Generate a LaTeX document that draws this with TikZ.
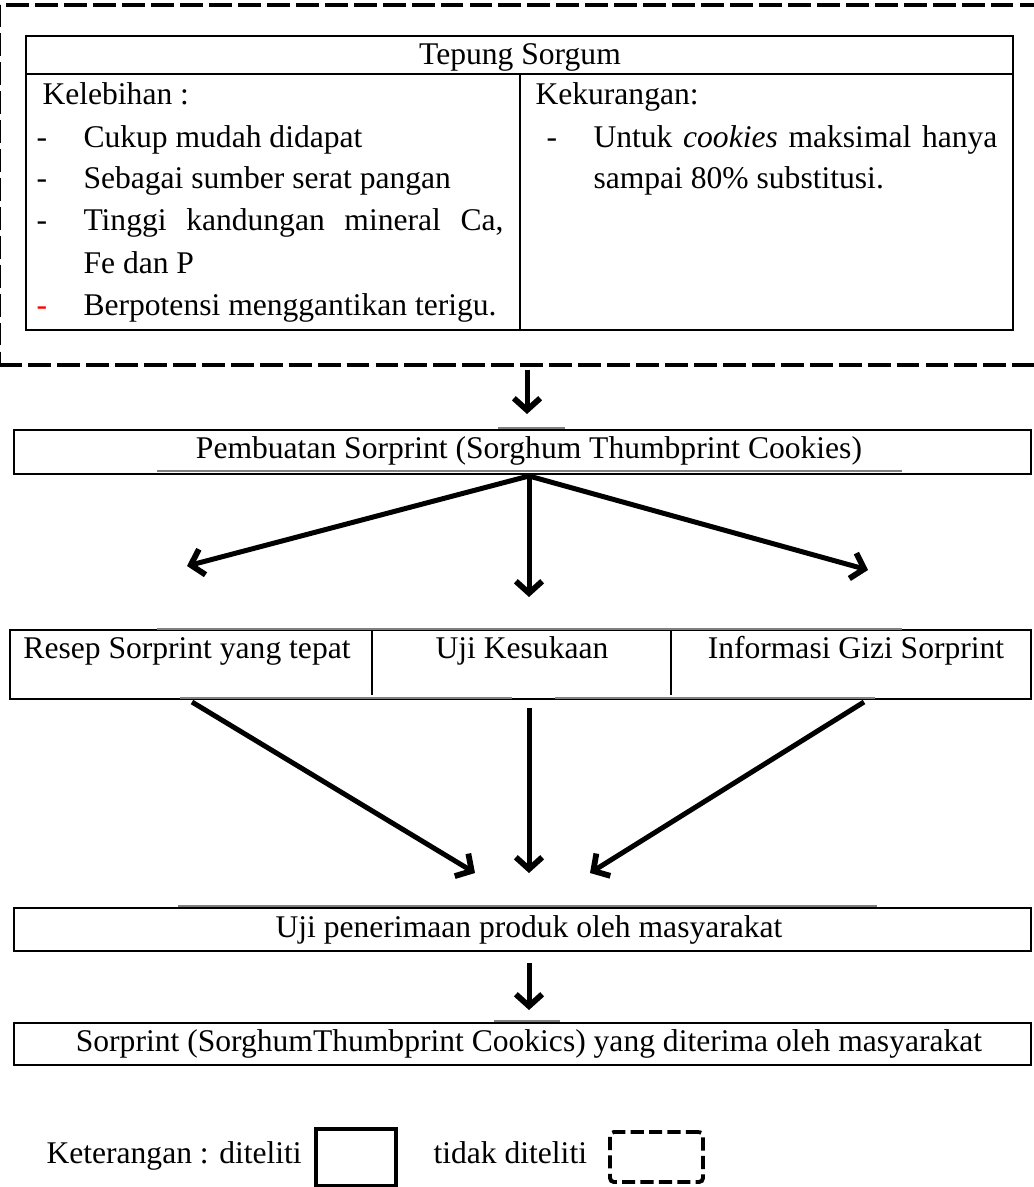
\documentclass[tikz,border=0pt]{standalone}
\usepackage{fontspec}
\setmainfont{Liberation Serif}
\usetikzlibrary{arrows.meta,fit}

\newcommand{\pxu}{0.38pt}

\tikzset{
  teks/.style={font=\fontsize{12}{14}\selectfont, inner sep=0pt, anchor=base},
  tekskiri/.style={teks, anchor=base west},
  kotak/.style={draw, line width=0.7pt, inner sep=0pt},
  putus/.style={draw, line width=1.7pt, dash pattern=on 8.7pt off 2.3pt},
  panah/.style={line width=1.9pt, -{Straight Barb[length=4.5pt,width=10pt,line width=2.2pt]}},
  sisa/.style={gray, line width=1pt}
}

\begin{document}
\begin{tikzpicture}[x=\pxu,y=-\pxu]
    \useasboundingbox (0,0) rectangle (1033,1187);

    % tepung sorgum (tidak diteliti)
    \node[putus, fit={(8,14) (1027,356)}] (luar) {};
    \node[kotak, fit={(26,36) (1013,330)}] (tabel) {};
    \draw[line width=0.7pt] (26,74) -- (1013,74);
    \draw[line width=0.7pt] (520,74) -- (520,330);
    \node[teks] (judul) at (520,65) {Tepung Sorgum};

    \node[tekskiri] (lebih) at (42,105) {Kelebihan :};
    \node[tekskiri] (d1) at (36,147) {-};
    \node[tekskiri] (d2) at (36,188) {-};
    \node[tekskiri] (d3) at (36,230) {-};
    \node[tekskiri, text=red] (d4) at (36,315) {-};
    \node[tekskiri] (lb1) at (83,147) {Cukup mudah didapat};
    \node[tekskiri] (lb2) at (83,188) {Sebagai sumber serat pangan};
    \node[tekskiri] (lb3) at (83,230) {\hbox to 159.6pt{Tinggi\hfill kandungan\hfill mineral\hfill Ca,}};
    \node[tekskiri] (lb4) at (83,273) {Fe dan P};
    \node[tekskiri] (lb5) at (83,315) {Berpotensi menggantikan terigu.};

    \node[tekskiri] (kurang) at (535,105) {Kekurangan:};
    \node[tekskiri] (d5) at (546,147) {-};
    \node[tekskiri] (kr1) at (593,147) {\hbox to 153.5pt{Untuk\hfill \textit{cookies}\hfill maksimal\hfill hanya}};
    \node[tekskiri] (kr2) at (593,188) {sampai 80\% substitusi.};

    % pembuatan
    \coordinate (a0) at (527,370);
    \coordinate (a1) at (527,414);
    \draw[panah] (a0) -- (a1);

    \draw[sisa] (498,428) -- (565,428);
    \node[kotak, fit={(14,430) (1031,474)}] (buat) {};
    \node[teks] (tbuat) at (529,458) {Pembuatan Sorprint (Sorghum Thumbprint Cookies)};
    \draw[sisa] (157,471) -- (902,471);

    \coordinate (pusat) at (529,476);
    \coordinate (ke1) at (187,566);
    \coordinate (ke2) at (529,597);
    \coordinate (ke3) at (868,570);
    \draw[panah] (pusat) -- (ke1);
    \draw[panah] (pusat) -- (ke2);
    \draw[panah] (pusat) -- (ke3);

    % tiga penelitian
    \node[kotak, fit={(10,630) (1031,699)}] (tiga) {};
    \draw[sisa] (157,629) -- (902,629);
    \draw[line width=0.5pt] (372,630) -- (372,695);
    \draw[line width=0.5pt] (671,630) -- (671,695);
    \node[teks] (resep) at (187,658) {Resep Sorprint yang tepat};
    \node[teks] (suka) at (522,658) {Uji Kesukaan};
    \node[teks] (gizi) at (856,658) {Informasi Gizi Sorprint};
    \draw[sisa] (180,698) -- (512,698);
    \draw[sisa] (555,698) -- (875,698);

    \coordinate (dr1) at (192,702);
    \coordinate (dr2) at (529,708);
    \coordinate (dr3) at (864,702);
    \coordinate (tj1) at (475,873);
    \coordinate (tj2) at (529,873);
    \coordinate (tj3) at (590,873);
    \draw[panah] (dr1) -- (tj1);
    \draw[panah] (dr2) -- (tj2);
    \draw[panah] (dr3) -- (tj3);

    % penerimaan
    \draw[sisa] (178,906) -- (877,906);
    \node[kotak, fit={(14,908) (1031,951)}] (terima) {};
    \node[teks] (tterima) at (529,937) {Uji penerimaan produk oleh masyarakat};

    \coordinate (b0) at (529,963);
    \coordinate (b1) at (529,1010);
    \draw[panah] (b0) -- (b1);

    \draw[sisa] (494,1021) -- (560,1021);
    \node[kotak, fit={(14,1023) (1031,1065)}] (akhir) {};
    \node[teks] (takhir) at (529,1051) {Sorprint (SorghumThumbprint Cookics) yang diterima oleh masyarakat};

    % keterangan
    \node[tekskiri] (ket) at (46,1163) {Keterangan : diteliti};
    \node[draw, line width=1.2pt, inner sep=0pt, fit={(316,1129) (396,1186)}] (lgpenuh) {};
    \node[tekskiri] (ket2) at (433,1163) {tidak diteliti};
    \node[draw, line width=1.5pt, dash pattern=on 5pt off 2pt, rounded corners=1.5pt, inner sep=0pt, fit={(610,1132) (703,1182)}] (lgputus) {};
\end{tikzpicture}
\end{document}
